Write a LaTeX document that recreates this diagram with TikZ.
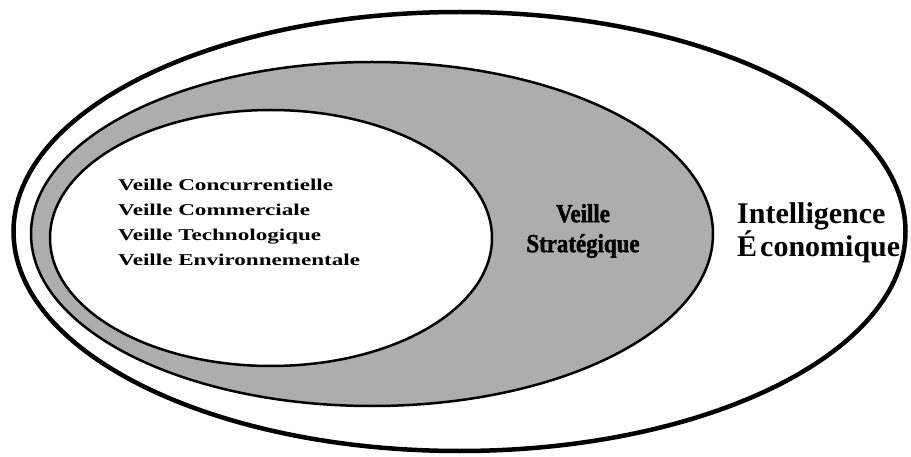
\documentclass[tikz,border=0pt]{standalone}
\usepackage{fontspec}
\setmainfont{Liberation Serif}
\newfontfamily\widefont[FakeStretch=1.4]{Liberation Serif}
\newfontfamily\heavyfont[FakeStretch=0.88,FakeBold=1.5]{Liberation Serif}
\begin{document}
\begin{tikzpicture}[x=1pt,y=-1pt,
  outerring/.style={draw=black,line width=4.5pt,fill=white},
  strat/.style={draw=black,line width=2.5pt,fill=black!32},
  core/.style={draw=black,line width=2.5pt,fill=white},
  listtext/.style={font=\widefont\bfseries\fontsize{16.5}{25}\selectfont,align=left,inner sep=0pt,anchor=west},
  strattext/.style={font=\heavyfont\bfseries\fontsize{26}{30}\selectfont,align=center,inner sep=0pt},
  ietext/.style={font=\bfseries\fontsize{30}{30}\selectfont,align=left,inner sep=0pt,anchor=west}]
\useasboundingbox (0,0) rectangle (911,457);
\fill[white] (0,0) rectangle (911,457);
\path[outerring] (459.5,231.5) ellipse [x radius=446, y radius=219.5];
\path[strat] (372,234) ellipse [x radius=341, y radius=172];
\path[core] (271,238) ellipse [x radius=221, y radius=128];
\node[listtext] (list) at (118,222) {Veille Concurrentielle\\Veille Commerciale\\Veille Technologique\\Veille Environnementale};
\node[strattext] (vs) at (583,231) {Veille\\Stratégique};
\node[ietext] (ie) at (737,233) {Intelligence\\É\kern3pt conomique};
\end{tikzpicture}
\end{document}
